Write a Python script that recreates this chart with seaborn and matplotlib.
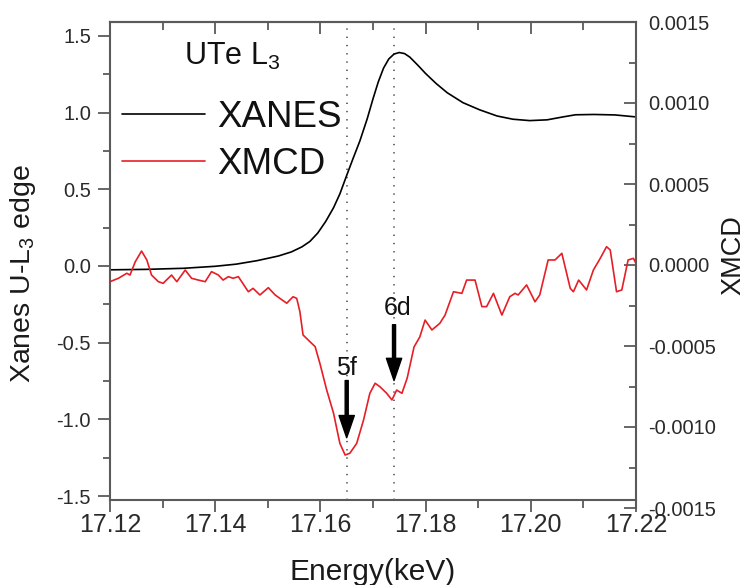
import matplotlib
matplotlib.use("Agg")
import matplotlib.pyplot as plt
import pandas as pd
import seaborn as sns
from matplotlib.ticker import MultipleLocator, FormatStrFormatter

# U L3-edge XANES of UTe (normalised absorption, left axis)
xanes_energy = [17.1200, 17.1270, 17.1340, 17.1400, 17.1440, 17.1480, 17.1520,
                17.1545, 17.1565, 17.1580, 17.1595, 17.1610, 17.1625, 17.1637,
                17.1651, 17.1662, 17.1675, 17.1689, 17.1700, 17.1710, 17.1720,
                17.1730, 17.1740, 17.1750, 17.1760, 17.1770, 17.1785, 17.1800,
                17.1820, 17.1841, 17.1871, 17.1903, 17.1936, 17.1966, 17.1998,
                17.2031, 17.2061, 17.2085, 17.2120, 17.2160, 17.2200]
xanes_mu = [-0.025, -0.022, -0.015, -0.002, 0.012, 0.035, 0.065,
            0.092, 0.125, 0.160, 0.215, 0.290, 0.380, 0.470,
            0.600, 0.700, 0.815, 0.960, 1.090, 1.200, 1.290,
            1.350, 1.382, 1.392, 1.385, 1.362, 1.310, 1.255,
            1.190, 1.130, 1.065, 1.018, 0.978, 0.957, 0.948,
            0.953, 0.972, 0.986, 0.988, 0.985, 0.972]

# XMCD signal (right axis)
xmcd_energy = [17.1200, 17.1216, 17.1232, 17.1238, 17.1248, 17.1260, 17.1270,
               17.1279, 17.1292, 17.1301, 17.1317, 17.1327, 17.1343, 17.1355,
               17.1368, 17.1381, 17.1393, 17.1406, 17.1415, 17.1425, 17.1434,
               17.1444, 17.1463, 17.1472, 17.1485, 17.1501, 17.1514, 17.1523,
               17.1536, 17.1548, 17.1555, 17.1561, 17.1567, 17.1580, 17.1590,
               17.1599, 17.1612, 17.1625, 17.1637, 17.1647, 17.1656, 17.1669,
               17.1682, 17.1694, 17.1704, 17.1713, 17.1726, 17.1736, 17.1745,
               17.1755, 17.1765, 17.1778, 17.1789, 17.1799, 17.1812, 17.1827,
               17.1837, 17.1853, 17.1869, 17.1878, 17.1894, 17.1907, 17.1916,
               17.1929, 17.1945, 17.1960, 17.1970, 17.1976, 17.1992, 17.2008,
               17.2017, 17.2033, 17.2046, 17.2059, 17.2075, 17.2081, 17.2091,
               17.2106, 17.2119, 17.2132, 17.2144, 17.2151, 17.2163, 17.2173,
               17.2185, 17.2195, 17.2200]
xmcd_signal = [-0.000103, -0.000082, -0.000051, -0.000062, 0.000020, 0.000086, 0.000031,
               -0.000062, -0.000103, -0.000113, -0.000062, -0.000103, -0.000031, -0.000082,
               -0.000093, -0.000103, -0.000041, -0.000062, -0.000093, -0.000072, -0.000082,
               -0.000072, -0.000165, -0.000144, -0.000185, -0.000140, -0.000185, -0.000206,
               -0.000236, -0.000196, -0.000206, -0.000288, -0.000432, -0.000473, -0.000504,
               -0.000607, -0.000772, -0.000915, -0.001101, -0.001173, -0.001162, -0.001101,
               -0.000957, -0.000792, -0.000730, -0.000751, -0.000792, -0.000833, -0.000772,
               -0.000792, -0.000698, -0.000506, -0.000444, -0.000340, -0.000401, -0.000360,
               -0.000309, -0.000165, -0.000175, -0.000093, -0.000093, -0.000257, -0.000257,
               -0.000175, -0.000309, -0.000196, -0.000175, -0.000185, -0.000123, -0.000227,
               -0.000185, 0.000031, 0.000031, 0.000072, -0.000144, -0.000165, -0.000093,
               -0.000154, -0.000031, 0.000041, 0.000113, 0.000093, -0.000165, -0.000154,
               0.000031, 0.000041, 0.000010]

# Marked features: energy, label baseline, arrow tail, arrow tip (left-axis units)
features = ["5f", "6d"]
feature_energy = [17.165, 17.174]
feature_text_x = [17.165, 17.1746]
feature_text_y = [-0.708, -0.318]
feature_tail_y = [-0.747, -0.383]
feature_tip_y = [-1.120, -0.747]

xanes_df = pd.DataFrame({"Energy": xanes_energy, "XANES": xanes_mu})
xmcd_df = pd.DataFrame({"Energy": xmcd_energy, "XMCD": xmcd_signal})

sns.set_style("ticks")
plt.rcParams["font.family"] = ["Liberation Sans", "DejaVu Sans"]
plt.rcParams["mathtext.fontset"] = "custom"
plt.rcParams["mathtext.rm"] = "Liberation Sans"
plt.rcParams["mathtext.it"] = "Liberation Sans"
plt.rcParams["mathtext.default"] = "regular"
plt.rcParams["axes.unicode_minus"] = False

spine_col = "#5a5a5a"
tick_col = "#2a2a2a"
W, H = 749, 585

fig = plt.figure(figsize=(W / 100, H / 100), dpi=100)
ax1 = fig.add_axes([110 / W, 85 / H, 526 / W, 478 / H])
ax2 = fig.add_axes([110 / W, 77 / H, 526 / W, 486 / H])
ax2.patch.set_visible(False)

sns.lineplot(data=xanes_df, x="Energy", y="XANES", ax=ax1, color="black",
             linewidth=1.2, label="XANES", legend=False)
sns.lineplot(data=xmcd_df, x="Energy", y="XMCD", ax=ax2, color="#e61e26",
             linewidth=1.2, label="XMCD", legend=False)

ax1.set_xlim(17.12, 17.22)
ax1.set_ylim(-1.526, 1.591)
ax2.set_xlim(17.12, 17.22)
ax2.set_ylim(-0.0015, 0.0015)

for xv in feature_energy:
    ax1.axvline(xv, color="#444444", linewidth=1.1, linestyle=(0, (0.9, 4.5)), zorder=1)

for name, tx, ty, xv, y0, y1 in zip(features, feature_text_x, feature_text_y,
                                    feature_energy, feature_tail_y, feature_tip_y):
    ax1.annotate("", xy=(xv, y1), xytext=(xv, y0),
                 arrowprops=dict(facecolor="black", edgecolor="black", width=2.2,
                                 headwidth=11, headlength=16, shrink=0))
    ax1.text(tx, ty, name, ha="center", va="baseline", fontsize=18, color="#111111")

# Frame styling
for side in ["left", "bottom", "top"]:
    ax1.spines[side].set_color(spine_col)
    ax1.spines[side].set_linewidth(1.5)
ax1.spines["right"].set_visible(False)
for side in ["left", "bottom", "top"]:
    ax2.spines[side].set_visible(False)
ax2.spines["right"].set_visible(True)
ax2.spines["right"].set_color(spine_col)
ax2.spines["right"].set_linewidth(1.5)

ax1.xaxis.set_major_locator(MultipleLocator(0.02))
ax1.xaxis.set_minor_locator(MultipleLocator(0.01))
ax1.xaxis.set_major_formatter(FormatStrFormatter("%.2f"))
ax1.yaxis.set_major_locator(MultipleLocator(0.5))
ax1.yaxis.set_minor_locator(MultipleLocator(0.25))
ax1.yaxis.set_major_formatter(FormatStrFormatter("%.1f"))

ax1.tick_params(axis="x", which="major", direction="out", length=8.6, width=1.3,
                color=spine_col, labelsize=18, pad=1, labelcolor=tick_col)
ax1.tick_params(axis="x", which="minor", direction="out", length=5.4, width=1.3,
                color=spine_col)
ax1.tick_params(axis="y", which="major", direction="out", length=8.6, width=1.3,
                color=spine_col, labelsize=14.5, pad=5, labelcolor=tick_col)
ax1.tick_params(axis="y", which="minor", direction="out", length=5.4, width=1.3,
                color=spine_col)

top = ax1.secondary_xaxis("top")
top.xaxis.set_major_locator(MultipleLocator(0.02))
top.xaxis.set_minor_locator(MultipleLocator(0.01))
top.tick_params(axis="x", which="major", direction="in", length=8.6, width=1.3,
                color=spine_col, labeltop=False)
top.tick_params(axis="x", which="minor", direction="in", length=5.4, width=1.3,
                color=spine_col)
top.spines["top"].set_color(spine_col)
top.spines["top"].set_linewidth(1.5)

ax2.xaxis.set_visible(False)
ax2.yaxis.tick_right()
ax2.yaxis.set_label_position("right")
ax2.yaxis.set_major_locator(MultipleLocator(0.0005))
ax2.yaxis.set_minor_locator(MultipleLocator(0.00025))
ax2.yaxis.set_major_formatter(FormatStrFormatter("%.4f"))
ax2.tick_params(axis="y", which="major", direction="in", length=8.6, width=1.3,
                color=spine_col, labelsize=14.5, pad=8.6, labelcolor=tick_col,
                left=False, right=True)
ax2.tick_params(axis="y", which="minor", direction="in", length=5.4, width=1.3,
                color=spine_col, left=False, right=True)

ax1.set_xlabel("Energy(keV)", fontsize=21.5, color="#1a1a1a")
ax1.set_ylabel("Xanes U-L$_3$ edge", fontsize=20.5, color="#1a1a1a")
ax2.set_ylabel("XMCD", fontsize=19.5, color="#1a1a1a")
ax1.xaxis.set_label_coords(0.5, -0.122)
ax1.yaxis.set_label_coords(-0.137, 0.473)
ax2.yaxis.set_label_coords(1.160, 0.52)

# Legend with its heading drawn as a separate caption above it
h1, l1 = ax1.get_legend_handles_labels()
h2, l2 = ax2.get_legend_handles_labels()
leg = ax1.legend(h1 + h2, l1 + l2, loc="upper left",
                 bbox_to_anchor=(0.0228, 0.837), frameon=False, fontsize=26.5,
                 handlelength=2.25, handletextpad=0.33,
                 labelspacing=0.33, borderpad=0, borderaxespad=0)
for t in leg.get_texts():
    t.set_color("#111111")
ax1.text(0.232, 0.910, "UTe L$_3$", transform=ax1.transAxes, ha="center",
         va="baseline", fontsize=22, color="#111111")

fig.savefig("out.png", dpi=100)
